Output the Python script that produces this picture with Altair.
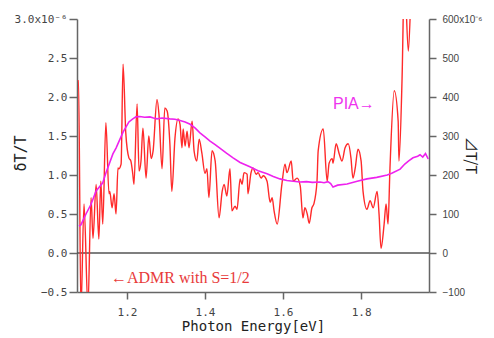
import altair as alt
import pandas as pd

# ---- data ----
# dT/T (x1e-6), red, left axis
red_e = [1.074, 1.076, 1.082, 1.090, 1.100, 1.108, 1.113, 1.121, 1.128, 1.133,
         1.138, 1.146, 1.154, 1.156, 1.162, 1.167, 1.172, 1.177, 1.179, 1.185,
         1.190, 1.197, 1.205, 1.210, 1.215, 1.218, 1.226, 1.231, 1.236, 1.241,
         1.249, 1.256, 1.262, 1.267, 1.277, 1.282, 1.290, 1.297, 1.303, 1.310,
         1.315, 1.323, 1.331, 1.336, 1.341, 1.344, 1.349, 1.354, 1.359, 1.367,
         1.372, 1.379, 1.385, 1.392, 1.400, 1.405, 1.410, 1.418, 1.426, 1.436,
         1.444, 1.449, 1.456, 1.464, 1.469, 1.477, 1.482, 1.490, 1.495, 1.500,
         1.508, 1.510, 1.518, 1.523, 1.531, 1.536, 1.544, 1.549, 1.559, 1.567,
         1.572, 1.577, 1.585, 1.597, 1.605, 1.610, 1.621, 1.626, 1.636, 1.644,
         1.651, 1.656, 1.662, 1.667, 1.674, 1.679, 1.687, 1.690, 1.703, 1.713,
         1.718, 1.726, 1.728, 1.736, 1.744, 1.751, 1.759, 1.767, 1.774, 1.779,
         1.785, 1.792, 1.800, 1.805, 1.815, 1.823, 1.831, 1.841, 1.846, 1.851,
         1.859, 1.864, 1.869, 1.874, 1.885, 1.895, 1.897, 1.905, 1.911, 1.921,
         1.930, 1.940]
red_v = [2.21, 2.21, -0.74, 0.63, -0.70, 0.71, 0.19, 0.88, 0.18, 0.92,
         0.37, 1.67, 0.76, 0.79, 0.58, 0.76, 0.50, 1.09, 1.08, 1.14,
         2.42, 1.54, 1.22, 1.18, 1.01, 0.88, 1.91, 1.05, 1.18, 1.60,
         0.96, 1.50, 1.21, 1.31, 1.97, 1.78, 1.08, 1.86, 1.82, 1.40,
         0.79, 1.47, 1.72, 1.65, 1.35, 1.59, 1.37, 1.56, 1.35, 1.69,
         1.31, 1.18, 1.46, 1.28, 1.02, 1.08, 0.71, 1.31, 1.18, 0.45,
         0.79, 0.88, 0.73, 1.08, 0.54, 0.60, 0.56, 0.95, 0.88, 1.03,
         1.01, 0.76, 1.03, 1.09, 1.01, 1.03, 0.96, 0.99, 0.92, 0.65,
         0.71, 0.54, 0.37, 0.88, 1.14, 1.03, 1.18, 0.92, 0.96, 0.86,
         0.45, 0.58, 0.50, 0.38, 0.58, 0.63, 0.92, 1.31, 1.59, 0.92,
         1.15, 1.21, 1.15, 1.40, 1.27, 1.18, 1.35, 1.40, 1.22, 0.96,
         1.09, 1.33, 1.18, 0.79, 0.56, 0.67, 0.58, 0.79, 0.50, 0.06,
         0.37, 0.63, 0.37, 1.09, 2.08, 1.69, 1.18, 2.24, 3.60, 2.59,
         3.60, 4.00]

# PIA (x1e-6), magenta, right axis
pia_e = [1.077, 1.082, 1.095, 1.108, 1.121, 1.138, 1.146, 1.164, 1.172, 1.190,
         1.205, 1.215, 1.223, 1.233, 1.245, 1.259, 1.268, 1.277, 1.290, 1.310,
         1.323, 1.336, 1.349, 1.362, 1.375, 1.387, 1.400, 1.413, 1.426, 1.438,
         1.455, 1.472, 1.490, 1.515, 1.536, 1.559, 1.575, 1.592, 1.610, 1.626,
         1.644, 1.660, 1.675, 1.695, 1.705, 1.715, 1.722, 1.728, 1.740, 1.764,
         1.790, 1.815, 1.840, 1.867, 1.880, 1.900, 1.912, 1.922, 1.933, 1.945,
         1.951, 1.958, 1.965, 1.972]
pia_v = [69, 72, 100, 125, 159, 180, 205, 254, 269, 310,
         336, 344, 349, 350, 348, 349, 346, 344, 346, 344,
         343, 340, 336, 330, 320, 308, 298, 287, 278, 269,
         256, 244, 232, 221, 211, 203, 196, 190, 186, 184,
         182, 183, 181, 182, 180, 183, 178, 169, 174, 177,
         184, 190, 194, 200, 205, 215, 228, 236, 244, 248,
         252, 246, 255, 241]

left_ticks = [-0.5, 0.0, 0.5, 1.0, 1.5, 2.0, 2.5, 3.0]
right_ticks = [-100, 0, 100, 200, 300, 400, 500, 600]
x_ticks = [1.2, 1.4, 1.6, 1.8]

ann_text = ["PIA\u2192", "\u2190ADMR with S=1/2"]
ann_e = [1.728, 1.159]
ann_v = [1.91, -0.32]

red_df = pd.DataFrame({"e": red_e, "v": red_v})
pia_df = pd.DataFrame({"e": pia_e, "p": pia_v})
zero_df = pd.DataFrame({"v": [0.0]})

x_enc = alt.X(
    "e:Q",
    scale=alt.Scale(domain=[1.072, 1.974], nice=False, zero=False),
    axis=alt.Axis(
        values=x_ticks, format=".1f", grid=False,
        title="Photon Energy[eV]", titleFont="DejaVu Sans Mono", titleFontSize=14,
        titleFontWeight="normal", titleColor="#222", titleBaseline="middle", titleY=34,
        labelFont="DejaVu Sans Mono", labelFontSize=11, labelColor="#444",
        tickSize=7, labelPadding=7, domainColor="#666", tickColor="#666",
        domainWidth=1.5, tickWidth=1.5,
    ),
)

left_axis = alt.Axis(
    values=left_ticks, grid=False,
    labelExpr="datum.value == 3 ? '3.0x10\u207b\u2076' : format(datum.value, '.1f')",
    labelFont="DejaVu Sans Mono", labelFontSize=11, labelColor="#444",
    tickSize=8, labelPadding=2, domainColor="#666", tickColor="#666",
    domainWidth=1.5, tickWidth=1.5,
    title="\u03b4T/T", titleFont="DejaVu Sans Mono", titleFontSize=15,
    titleFontWeight="normal", titleColor="#222", titleAngle=270,
    titleX=-57, titleY=134, titleBaseline="middle", titleAlign="center",
)
y_left = alt.Y("v:Q", scale=alt.Scale(domain=[-0.5, 3.0], nice=False, zero=False),
               axis=left_axis)

red = alt.Chart(red_df).mark_line(
    color="#ff2a2a", strokeWidth=1.4, clip=True, interpolate="monotone"
).encode(x=x_enc, y=y_left, order=alt.Order("e:Q"))

zero = alt.Chart(zero_df).mark_rule(color="#555", strokeWidth=1.3).encode(y=y_left)

ann_df = pd.DataFrame({"e": ann_e, "v": ann_v, "t": ann_text})
pia_txt = alt.Chart(ann_df.iloc[[0]]).mark_text(
    align="left", baseline="middle", font="Liberation Sans", fontSize=16, color="#ee33ee"
).encode(x=x_enc, y=y_left, text="t:N")
admr_txt = alt.Chart(ann_df.iloc[[1]]).mark_text(
    align="left", baseline="middle", font="Liberation Serif, DejaVu Serif", fontSize=16,
    color="#e83a3a"
).encode(x=x_enc, y=y_left, text="t:N")

left_layer = alt.layer(zero, red, pia_txt, admr_txt)

right_axis = alt.Axis(
    orient="right", values=right_ticks, grid=False,
    labelExpr="datum.value == 600 ? '600x10\u207b\u2076' : format(datum.value, 'd')",
    labelFont="Liberation Sans", labelFontSize=10, labelColor="#444",
    tickSize=7, labelPadding=6, domainColor="#666", tickColor="#666",
    domainWidth=1.5, tickWidth=1.5,
    title="\u22bfT/T", titleFont="Noto Sans CJK JP", titleFontSize=15,
    titleFontWeight="normal", titleColor="#222", titleAngle=90,
    titleX=41, titleY=136, titleBaseline="middle", titleAlign="center",
)
pia = alt.Chart(pia_df).mark_line(color="#ee22ee", strokeWidth=1.6, clip=True).encode(
    x=x_enc,
    y=alt.Y("p:Q", scale=alt.Scale(domain=[-100, 600], nice=False, zero=False),
            axis=right_axis),
    order=alt.Order("e:Q"),
)

chart = alt.layer(left_layer, pia).resolve_scale(y="independent").properties(
    width=352, height=273,
    autosize=alt.AutoSizeParams(type="none"),
    padding={"left": 69, "top": 11, "right": 57, "bottom": 46},
    background="white",
).configure_view(stroke=None)

chart.save("out.html", embed_options={"renderer": "svg", "actions": False})
